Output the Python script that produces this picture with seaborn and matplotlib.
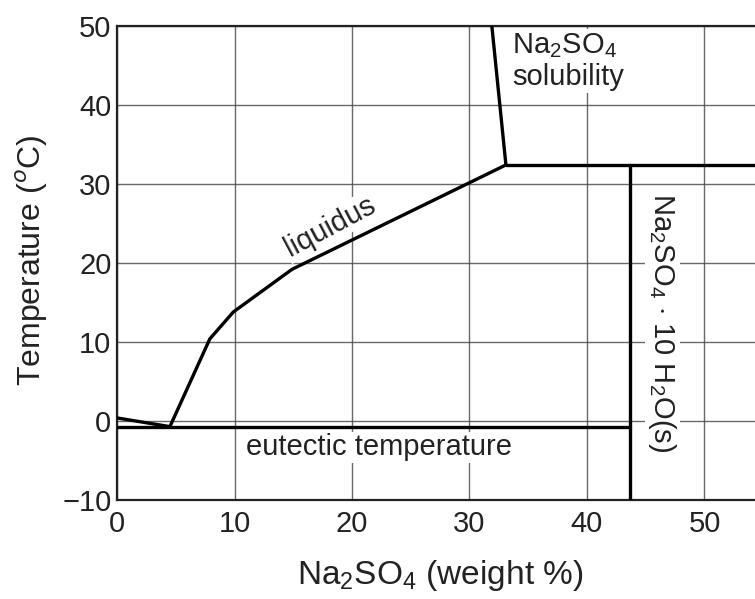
import matplotlib
matplotlib.use("Agg")
from matplotlib import pyplot as plt
import seaborn as sns
import pandas as pd

# phase boundaries (Na2SO4 wt %, temperature C)
ice_x = [0, 4.5]
ice_y = [0.4, -0.7]

liquidus_x = [4.5, 7.9, 9.9, 14.9, 33.1]
liquidus_y = [-0.7, 10.4, 13.8, 19.2, 32.4]

solubility_x = [33.1, 31.9]
solubility_y = [32.4, 50]

transition_x = [33.1, 56]
transition_y = [32.4, 32.4]

eutectic_x = [0, 43.7]
eutectic_y = [-0.7, -0.7]

hydrate_x = [43.7, 43.7]
hydrate_y = [32.4, -10]

x_ticks = [0, 10, 20, 30, 40, 50]
y_ticks = [-10, 0, 10, 20, 30, 40, 50]

sns.set_style("white")
plt.rcParams['font.family'] = ['Liberation Sans', 'DejaVu Sans']
plt.rcParams['mathtext.fontset'] = 'custom'
plt.rcParams['mathtext.rm'] = 'Liberation Sans'

fig = plt.figure(figsize=(7.55, 5.99), dpi=100)
ax = fig.add_axes([0.155, 0.165, 0.845, 0.792])

lines = [
    (ice_x, ice_y),
    (liquidus_x, liquidus_y),
    (solubility_x, solubility_y),
    (transition_x, transition_y),
    (eutectic_x, eutectic_y),
    (hydrate_x, hydrate_y),
]
for xs, ys in lines:
    df = pd.DataFrame({"x": xs, "y": ys})
    sns.lineplot(data=df, x="x", y="y", sort=False, estimator=None,
                 color="black", lw=2.4, ax=ax, zorder=3)

ax.set_xlim(0, 54.3)
ax.set_ylim(-10, 50)
ax.set_xticks(x_ticks)
ax.set_yticks(y_ticks)
ax.grid(True, color="#444444", lw=1.0, alpha=0.8)
ax.tick_params(length=0, labelsize=21, colors="#222222")
ax.tick_params(axis="x", pad=7)
ax.tick_params(axis="y", pad=4)

for side in ["left", "bottom", "top"]:
    ax.spines[side].set_color("#222222")
    ax.spines[side].set_linewidth(1.6)
ax.spines["right"].set_visible(False)

ax.set_xlabel("Na$_2$SO$_4$ (weight %)", fontsize=24, color="#222222")
ax.set_ylabel("Temperature ($^o$C)", fontsize=23, color="#222222")
ax.xaxis.set_label_coords(0.506, -0.158)
ax.xaxis.label.set_va("center")
ax.yaxis.set_label_coords(-0.133, 0.505)
ax.yaxis.label.set_va("center")

box = dict(facecolor="white", edgecolor="none", pad=1.0)
ax.text(33.6, 49.3, "Na$_2$SO$_4$\nsolubility", fontsize=21, va="top", ha="left",
        color="#222222", linespacing=1.15, bbox=box, zorder=4)
ax.text(18.1, 24.6, "liquidus", fontsize=21, rotation=28, ha="center", va="center",
        color="#222222", bbox=box, zorder=4)
ax.text(22.3, -3.3, "eutectic temperature", fontsize=21, ha="center", va="center",
        color="#222222", bbox=box, zorder=4)
ax.text(46.4, 12.4, "Na$_2$SO$_4$ $\\cdot$ 10 H$_2$O(s)", fontsize=21, rotation=-90,
        ha="center", va="center", color="#222222", bbox=box, zorder=4)

fig.savefig("out.png", dpi=100)
